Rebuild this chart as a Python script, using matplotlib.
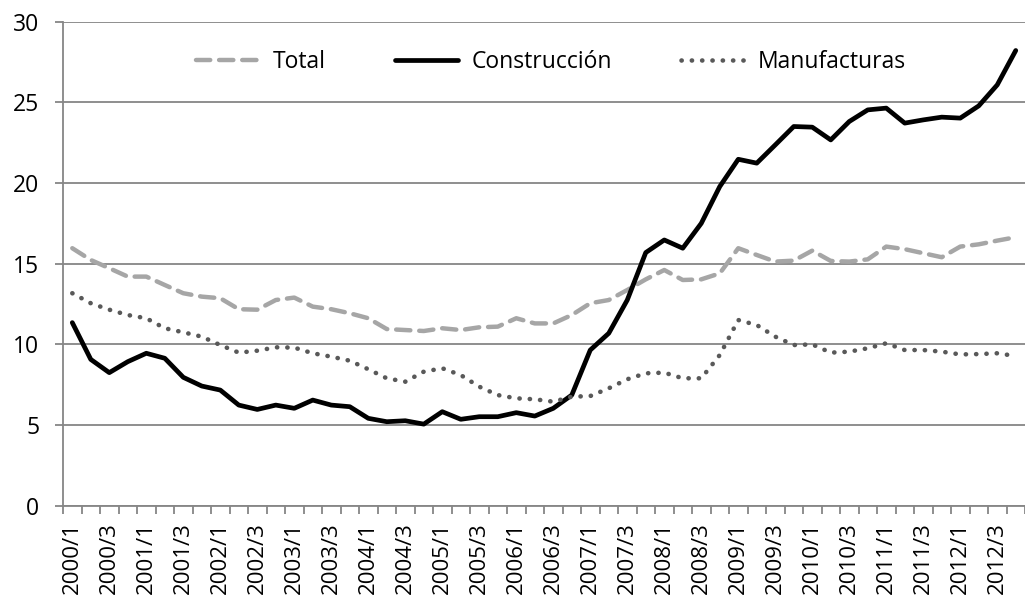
import matplotlib.pyplot as plt
import numpy as np

plt.rcParams["font.family"] = ["Open Sans", "DejaVu Sans"]

# ── Data (quarterly, 2000/1 .. 2012/4) ──
years = list(range(2000, 2013))
quarters = [f"{y}/{q}" for y in years for q in (1, 2, 3, 4)]

total = [15.96, 15.23, 14.72, 14.20, 14.20, 13.68, 13.17, 12.96, 12.86, 12.18,
         12.15, 12.75, 12.90, 12.34, 12.18, 11.93, 11.62, 10.95, 10.89, 10.83,
         11.00, 10.89, 11.06, 11.10, 11.62, 11.30, 11.30, 11.82, 12.55, 12.75,
         13.37, 14.03, 14.61, 13.99, 14.03, 14.40, 15.96, 15.54, 15.13, 15.19,
         15.81, 15.17, 15.13, 15.27, 16.06, 15.90, 15.65, 15.40, 16.06, 16.20,
         16.43, 16.64]

construccion = [11.35, 9.07, 8.25, 8.93, 9.45, 9.14, 7.96, 7.42, 7.17, 6.24,
                5.97, 6.24, 6.04, 6.55, 6.24, 6.14, 5.42, 5.21, 5.27, 5.06,
                5.83, 5.36, 5.52, 5.52, 5.77, 5.56, 6.04, 6.86, 9.65, 10.69,
                12.75, 15.69, 16.47, 15.96, 17.50, 19.78, 21.47, 21.23, 22.36, 23.50,
                23.46, 22.67, 23.81, 24.53, 24.64, 23.71, 23.91, 24.08, 24.02, 24.78,
                26.08, 28.21]

manufacturas = [13.17, 12.55, 12.15, 11.82, 11.62, 11.00, 10.75, 10.48, 9.96, 9.49,
                9.61, 9.82, 9.80, 9.45, 9.24, 8.99, 8.46, 7.90, 7.69, 8.31,
                8.52, 8.10, 7.38, 6.86, 6.66, 6.60, 6.45, 6.76, 6.80, 7.28,
                7.84, 8.21, 8.25, 7.90, 7.90, 9.34, 11.51, 11.20, 10.48, 9.96,
                10.00, 9.49, 9.55, 9.76, 10.07, 9.65, 9.65, 9.55, 9.38, 9.40,
                9.45, 9.28]

x = np.arange(len(quarters))

fig = plt.figure(figsize=(10.25, 6), dpi=100)
ax = fig.add_axes([0.0615, 0.157, 0.9385, 0.807])

grid_col = "#868686"
ax.plot(x, total, color="#a6a6a6", linewidth=3.2, dashes=(3.2, 2.0),
        dash_capstyle="round", label="Total")
ax.plot(x, construccion, color="black", linewidth=3.4, solid_capstyle="round",
        solid_joinstyle="round", label="Construcción")
ax.plot(x, manufacturas, color="#595959", linewidth=3.3, dashes=(0.05, 2.2),
        dash_capstyle="round", label="Manufacturas")

ax.set_ylim(0, 30)
ax.set_yticks(range(0, 31, 5))
ax.set_xlim(-0.5, 51.18)
ax.yaxis.grid(True, color=grid_col, linewidth=1.3)
ax.set_axisbelow(True)

# labels at category centres, tick marks at category boundaries
ax.set_xticks(x[::2])
ax.set_xticklabels(quarters[::2], rotation=90)
ax.set_xticks(np.arange(-0.5, len(quarters), 1), minor=True)
ax.tick_params(axis="x", which="major", length=0, labelsize=16, pad=12)
ax.tick_params(axis="x", which="minor", length=6, width=1.3, color=grid_col)
ax.tick_params(axis="y", length=6, width=1.3, color=grid_col, labelsize=16.5, pad=11)

for side in ("top", "right"):
    ax.spines[side].set_visible(False)
for side in ("left", "bottom"):
    ax.spines[side].set_color(grid_col)
    ax.spines[side].set_linewidth(1.3)

ax.legend(loc="center", bbox_to_anchor=(0.507, 0.917), ncol=3, frameon=False,
          fontsize=16.5, handlelength=2.75, columnspacing=3.0, handletextpad=0.6)

plt.savefig("out.png", dpi=100)
